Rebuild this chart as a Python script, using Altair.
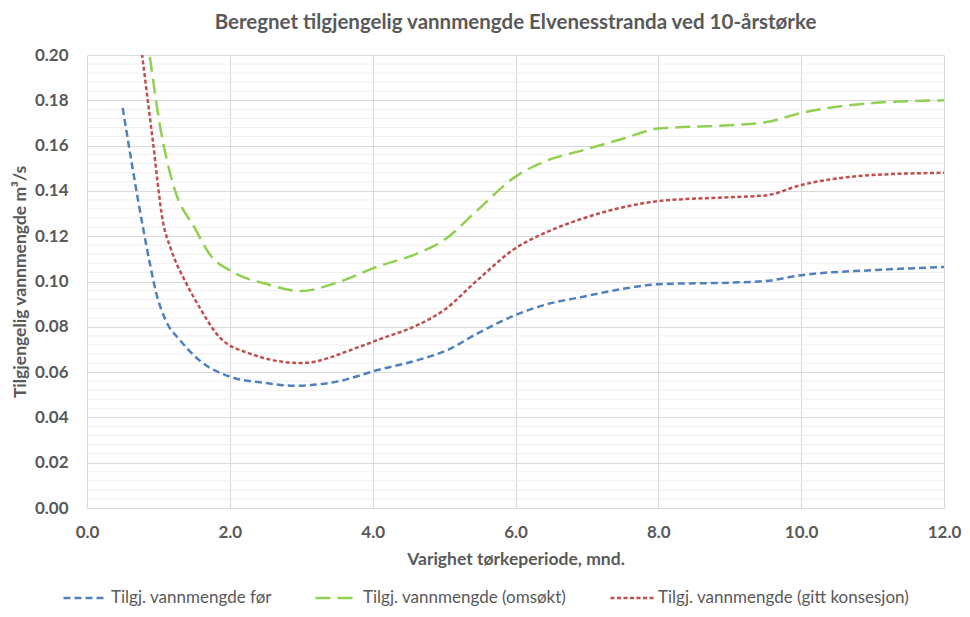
import altair as alt
import pandas as pd

series_names = ["Tilgj. vannmengde før", "Tilgj. vannmengde (omsøkt)", "Tilgj. vannmengde (gitt konsesjon)"]
series_colors = ["#4F81BD", "#92D050", "#C0504D"]
series_dashes = [[7, 4], [15, 7], [4, 2.5]]

x_for = [0.5, 0.78, 0.88, 0.97, 1.1, 1.3, 1.57, 2.0, 2.5, 2.9, 3.5, 4.07, 4.63, 5.05, 5.47, 6.0, 6.4, 6.95, 7.55, 8.0, 9.0, 9.5, 10.0, 11.0, 12.0]
y_for = [0.1766, 0.1245, 0.108, 0.0948, 0.083, 0.0742, 0.0653, 0.058, 0.0552, 0.054, 0.0558, 0.0609, 0.0653, 0.0698, 0.0771, 0.0852, 0.0896, 0.0933, 0.097, 0.0988, 0.0995, 0.1002, 0.1028, 0.105, 0.1064]

x_oms = [0.75, 0.876, 1.015, 1.2, 1.525, 1.71, 2.03, 2.5, 3.0, 3.5, 4.07, 4.63, 5.0, 5.47, 6.0, 6.4, 6.95, 7.5, 8.0, 9.0, 9.5, 10.0, 11.0, 12.0]
y_oms = [0.228, 0.2, 0.170, 0.1435, 0.1227, 0.1124, 0.1044, 0.099, 0.0958, 0.0995, 0.1066, 0.1124, 0.1183, 0.1316, 0.1463, 0.1529, 0.158, 0.163, 0.1675, 0.169, 0.1703, 0.1744, 0.1788, 0.180]

x_kon = [0.77, 0.92, 1.06, 1.18, 1.39, 1.57, 1.85, 2.27, 3.0, 3.8, 4.07, 4.63, 5.0, 5.47, 6.0, 6.4, 6.95, 7.55, 8.0, 9.0, 9.5, 10.0, 11.0, 12.0]
y_kon = [0.2005, 0.1625, 0.127, 0.1139, 0.0992, 0.0889, 0.0756, 0.0683, 0.064, 0.071, 0.0742, 0.0808, 0.0874, 0.1007, 0.1147, 0.1213, 0.1279, 0.1331, 0.1355, 0.1372, 0.138, 0.1426, 0.147, 0.148]

x_ticks = [0, 2, 4, 6, 8, 10, 12]
y_ticks = [0.0, 0.02, 0.04, 0.06, 0.08, 0.10, 0.12, 0.14, 0.16, 0.18, 0.20]
minor_ticks = [round(k * 0.004, 3) for k in range(1, 50) if k % 5 != 0]

rows = []
for name, xs, ys in zip(series_names, [x_for, x_oms, x_kon], [y_for, y_oms, y_kon]):
    for i, (xv, yv) in enumerate(zip(xs, ys)):
        rows.append({"serie": name, "x": xv, "y": yv, "ord": i})
df = pd.DataFrame(rows)
minor_df = pd.DataFrame({"y": minor_ticks})

FONT = "Lato"
GREY = "#595959"

xscale = alt.Scale(domain=[0, 12], nice=False, zero=False)
yscale = alt.Scale(domain=[0, 0.2], nice=False)
yaxis = alt.Axis(values=y_ticks, format=".2f", title="Tilgjengelig vannmengde m³/s",
                 labelPadding=19, titlePadding=5)

minor = alt.Chart(minor_df).mark_rule(color="#efefef", strokeWidth=1).encode(
    y=alt.Y("y:Q", scale=yscale, axis=yaxis)
)

legend = alt.Legend(
    title=None, orient="none", legendX=-25, legendY=520, direction="horizontal",
    symbolType="stroke", symbolSize=1849, symbolStrokeWidth=2.5,
    labelFont=FONT, labelFontSize=17, labelColor=GREY, labelOffset=3, labelLimit=400,
    columnPadding=38, symbolOpacity=1,
)

lines = alt.Chart(df).mark_line(strokeWidth=2.5, clip=True, interpolate="monotone").encode(
    x=alt.X("x:Q", scale=xscale, axis=alt.Axis(
        values=x_ticks, format=".1f", title="Varighet tørkeperiode, mnd.",
        labelPadding=16, titlePadding=10, labelFlush=False)),
    y=alt.Y("y:Q", scale=yscale, axis=yaxis),
    color=alt.Color("serie:N", scale=alt.Scale(domain=series_names, range=series_colors),
                    sort=series_names, legend=legend),
    strokeDash=alt.StrokeDash("serie:N", scale=alt.Scale(domain=series_names, range=series_dashes),
                              sort=series_names, legend=legend),
    order=alt.Order("ord:Q"),
)

chart = alt.layer(minor, lines).properties(
    width=857, height=453,
    autosize=alt.AutoSizeParams(type="none"),
    padding={"left": 79, "top": 47, "right": 18, "bottom": 98},
    title=alt.TitleParams(
        "Beregnet tilgjengelig vannmengde Elvenesstranda ved 10-årstørke",
        font=FONT, fontSize=20.5, fontWeight="bold", color=GREY, anchor="middle",
        offset=13, frame="group",
    ),
).configure_axis(
    grid=True, gridColor="#d9d9d9", gridWidth=1, domain=False, ticks=False,
    labelFont=FONT, labelFontSize=17, labelFontWeight="bold", labelColor=GREY,
    titleFont=FONT, titleFontSize=17.5, titleFontWeight="bold", titleColor=GREY,
).configure_view(stroke=None)

chart.save("out.html", embed_options={"renderer": "svg", "actions": False})
